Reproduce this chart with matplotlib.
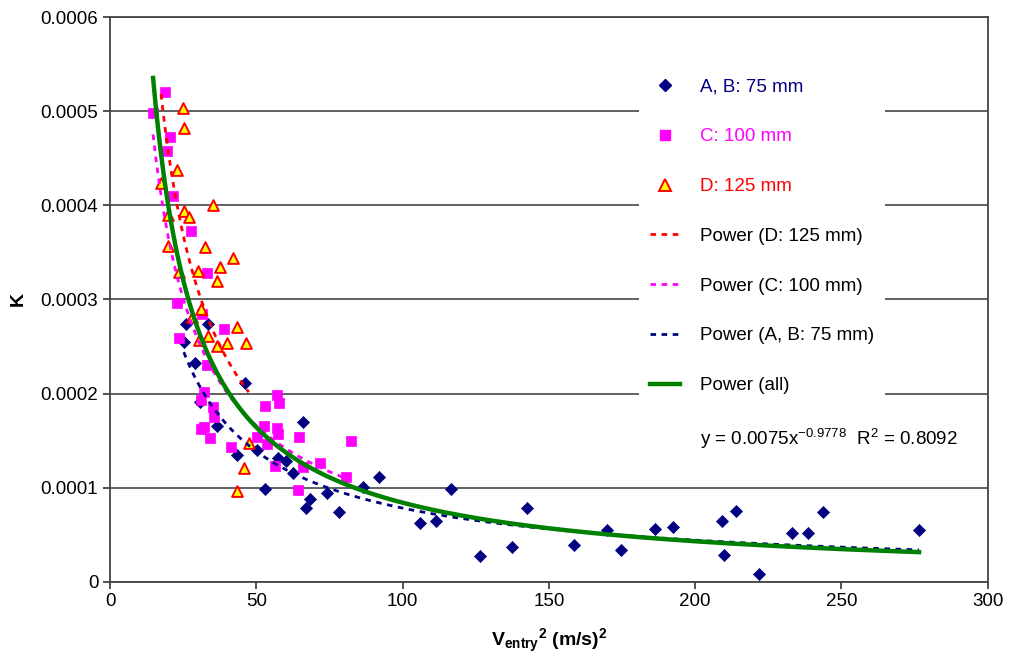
import matplotlib
matplotlib.use("Agg")
import matplotlib.pyplot as plt
from matplotlib.lines import Line2D
import numpy as np

plt.rcParams['font.family'] = ['Liberation Sans', 'DejaVu Sans']
plt.rcParams['mathtext.fontset'] = 'custom'
plt.rcParams['mathtext.rm'] = 'Liberation Sans'
plt.rcParams['mathtext.bf'] = 'Liberation Sans:bold'

# A, B: 75 mm
x_ab = [25.9, 33.4, 25.2, 29.0, 46.0, 30.7, 36.5, 43.3, 50.1, 57.3, 60.0, 62.4, 65.8, 52.8,
        68.2, 66.8, 74.0, 78.1, 86.3, 92.0, 116.6, 106.0, 111.5, 126.5, 137.4, 142.5,
        158.5, 169.8, 174.5, 186.1, 192.3, 209.0, 214.1, 210.0, 221.9, 233.2, 238.6,
        243.8, 276.5]
y_ab = [0.000274, 0.000274, 0.000255, 0.000232, 0.000211, 0.000191, 0.000166, 0.000135,
        0.000140, 0.000131, 0.000128, 0.000115, 0.000170, 0.000098, 0.000088, 0.000078,
        0.000094, 0.000074, 0.000101, 0.000111, 0.000098, 0.000062, 0.000064, 0.000027,
        0.000037, 0.000078, 0.000039, 0.000055, 0.000034, 0.000056, 0.000058, 0.000064,
        0.000075, 0.000028, 0.000008, 0.000052, 0.000052, 0.000074, 0.000055]

# C: 100 mm
x_c = [18.75, 14.7, 20.5, 19.4, 21.5, 27.6, 33.1, 22.8, 31.4, 38.9, 23.5, 33.1, 32.0, 31.0,
       35.1, 35.5, 32.0, 31.0, 34.1, 41.3, 52.8, 56.9, 57.6, 52.5, 56.9, 57.3, 50.1, 53.5,
       56.3, 66.1, 64.4, 71.6, 80.8, 82.2, 64.1]
y_c = [0.000520, 0.000498, 0.000473, 0.000458, 0.000410, 0.000373, 0.000328, 0.000296,
       0.000285, 0.000269, 0.000259, 0.000230, 0.000202, 0.000193, 0.000186, 0.000175,
       0.000164, 0.000162, 0.000153, 0.000143, 0.000187, 0.000198, 0.000190, 0.000166,
       0.000163, 0.000157, 0.000154, 0.000146, 0.000123, 0.000122, 0.000154, 0.000126,
       0.000111, 0.000149, 0.000097]

# D: 125 mm
x_d = [24.9, 25.2, 22.8, 17.4, 35.1, 25.2, 26.9, 19.8, 19.8, 32.4, 41.9, 30.0, 37.5, 23.5,
       36.5, 31.0, 28.0, 43.3, 33.4, 39.9, 46.4, 36.5, 30.3, 47.4, 45.7, 43.3]
y_d = [0.000503, 0.000482, 0.000438, 0.000424, 0.000400, 0.000394, 0.000388, 0.000390,
       0.000357, 0.000356, 0.000344, 0.000330, 0.000334, 0.000329, 0.000320, 0.000290,
       0.000281, 0.000271, 0.000261, 0.000254, 0.000254, 0.000250, 0.000257, 0.000147,
       0.000121, 0.000096]

x_ticks = [0, 50, 100, 150, 200, 250, 300]
y_ticks = [0, 0.0001, 0.0002, 0.0003, 0.0004, 0.0005, 0.0006]
y_tick_labels = ['0', '0.0001', '0.0002', '0.0003', '0.0004', '0.0005', '0.0006']
equation = r'y = 0.0075x$^{-0.9778}$  R$^{2}$ = 0.8092'


# power trendline fitted in log space, drawn over the data range
def power_fit(xs, ys):
    xs = np.asarray(xs)
    b, ln_a = np.polyfit(np.log(xs), np.log(ys), 1)
    xx = np.linspace(xs.min(), xs.max(), 300)
    return xx, np.exp(ln_a) * xx ** b


fig = plt.figure(figsize=(10.1, 6.61), dpi=100)
ax = fig.add_axes([0.109, 0.120, 0.869, 0.854])

ax.set_axisbelow(True)
ax.yaxis.grid(True, color='#555555', lw=1.3)

ax.scatter(x_ab, y_ab, marker='D', s=38, c='#000080', edgecolors='#000080', lw=0.5, zorder=3)
ax.scatter(x_c, y_c, marker='s', s=52, c='#FF00FF', edgecolors='#FF00FF', lw=0.5, zorder=3)
ax.scatter(x_d, y_d, marker='^', s=60, c='#FFFF00', edgecolors='#FF0000', lw=1.4, zorder=3)

fx, fy = power_fit(x_d, y_d)
ax.plot(fx, fy, color='#FF0000', lw=2, ls=(0, (2, 2)), zorder=4)
fx, fy = power_fit(x_c, y_c)
ax.plot(fx, fy, color='#FF00FF', lw=2, ls=(0, (2, 2)), zorder=4)
fx, fy = power_fit(x_ab, y_ab)
ax.plot(fx, fy, color='#000080', lw=2, ls=(0, (2, 2)), zorder=4)
fx, fy = power_fit(x_ab + x_c + x_d, y_ab + y_c + y_d)
ax.plot(fx, fy, color='#008000', lw=3.2, zorder=5)

ax.set_xlim(0, 300)
ax.set_ylim(0, 0.0006)
ax.set_xticks(x_ticks)
ax.set_yticks(y_ticks)
ax.set_yticklabels(y_tick_labels)
ax.tick_params(labelsize=13.5, length=5, color='#333333', width=1.2)
for s in ax.spines.values():
    s.set_color('#444444')
    s.set_linewidth(1.3)

ax.set_xlabel(r'$\mathbf{V_{entry}}$$\mathbf{^2}$ (m/s)$\mathbf{^2}$', fontsize=14,
              fontweight='bold', labelpad=12)
ax.set_ylabel('K', fontsize=14, fontweight='bold', labelpad=10)

handles = [
    Line2D([], [], marker='D', ls='none', color='#000080', ms=6.5),
    Line2D([], [], marker='s', ls='none', color='#FF00FF', ms=7.5),
    Line2D([], [], marker='^', ls='none', mfc='#FFFF00', mec='#FF0000', mew=1.4, ms=8),
    Line2D([], [], color='#FF0000', lw=2, ls=(0, (2, 2))),
    Line2D([], [], color='#FF00FF', lw=2, ls=(0, (2, 2))),
    Line2D([], [], color='#000080', lw=2, ls=(0, (2, 2))),
    Line2D([], [], color='#008000', lw=3.2),
]
labels = ['A, B: 75 mm', 'C: 100 mm', 'D: 125 mm', 'Power (D: 125 mm)',
          'Power (C: 100 mm)', 'Power (A, B: 75 mm)', 'Power (all)']
leg = ax.legend(handles, labels, loc='upper left', bbox_to_anchor=(0.592, 0.928),
                fontsize=13.5, frameon=True, facecolor='white', edgecolor='none',
                framealpha=1, fancybox=False, labelspacing=1.74, handlelength=1.6,
                handletextpad=1.05, borderpad=0.6,
                labelcolor=['#000080', '#FF00FF', '#FF0000', 'black', 'black',
                            'black', 'black'])
leg.set_zorder(6)

ax.text(0.672, 0.242, equation, transform=ax.transAxes, fontsize=13.5,
        ha='left', va='baseline', zorder=7)

fig.savefig('out.png', dpi=100)
